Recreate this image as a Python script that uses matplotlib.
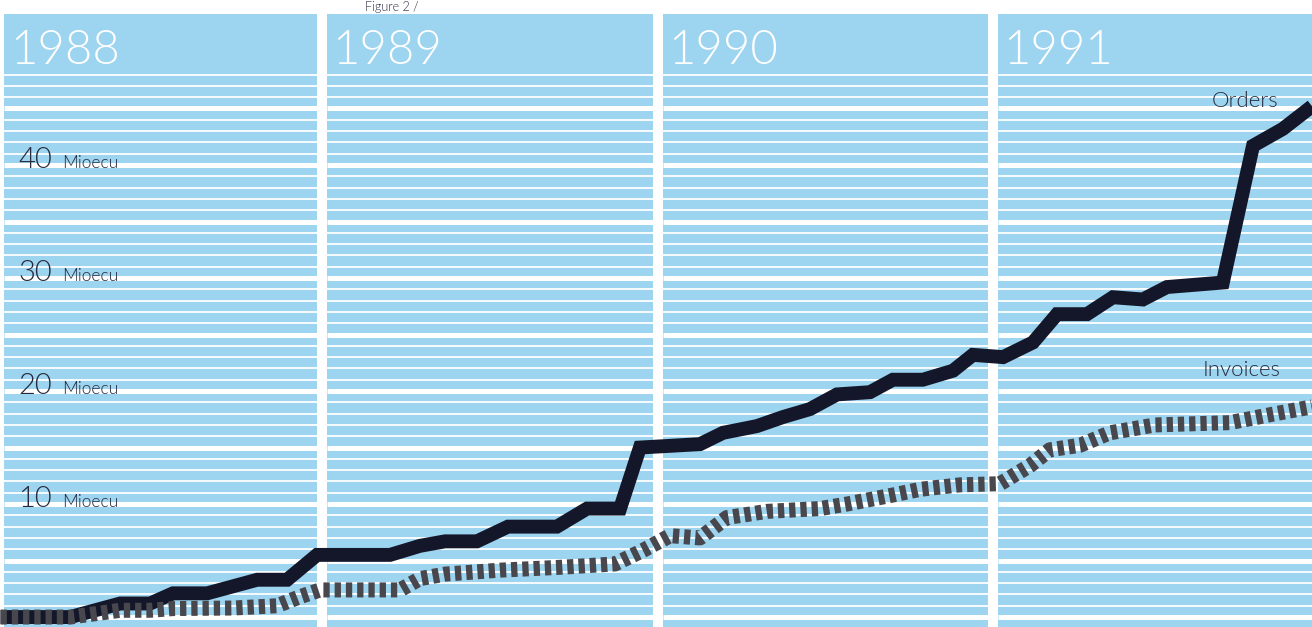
import matplotlib.pyplot as plt
from matplotlib.patches import Rectangle

years = ["1988", "1989", "1990", "1991"]

# x positions are months counted from January 1988, values in Mioecu (cumulative)
orders_month = [0.5, 2.99, 4.78, 5.85, 6.67, 7.89, 9.68, 10.75, 11.82, 14.43,
                15.5, 16.4, 17.54, 18.65, 20.4, 21.48, 22.66, 23.37, 25.52, 26.34,
                27.56, 28.49, 29.45, 30.42, 31.6, 32.42, 33.49, 34.57, 35.28, 36.36,
                37.43, 38.29, 39.36, 40.29, 41.36, 42.22, 44.22, 45.3, 46.37, 47.41]
orders_mioecu = [0, 0, 1.2, 1.2, 2.1, 2.1, 3.3, 3.3, 5.5, 5.5,
                 6.3, 6.7, 6.7, 8.0, 8.0, 9.6, 9.6, 15.0, 15.3, 16.3,
                 16.9, 17.7, 18.4, 19.7, 19.9, 21.0, 21.0, 21.8, 23.2, 23.0,
                 24.3, 26.8, 26.8, 28.3, 28.1, 29.2, 29.6, 41.7, 43.2, 45.2]

invoices_month = [0.5, 2.99, 4.06, 4.78, 5.85, 6.67, 8.82, 10.39, 11.21, 11.93,
                  14.79, 15.5, 16.4, 18.37, 20.51, 22.48, 23.48, 24.45, 25.52, 26.48,
                  27.91, 29.81, 30.78, 32.42, 33.39, 34.82, 36.25, 37.32, 38.03, 39.11,
                  40.18, 41.79, 44.47, 45.9, 47.41]
invoices_mioecu = [0, 0, 0.35, 0.6, 0.6, 0.75, 0.8, 1.0, 1.8, 2.4,
                   2.4, 3.4, 3.8, 4.15, 4.4, 4.7, 5.9, 7.2, 7.0, 8.8,
                   9.35, 9.6, 10.0, 10.8, 11.3, 11.7, 11.8, 13.4, 14.8, 15.2,
                   16.3, 17.0, 17.2, 17.9, 18.6]

value_ticks = [10, 20, 30, 40]

BLUE = "#9dd4ef"
INK = "#262a3c"
LIGHT = dict(fontfamily="Lato", fontweight=300)

fig = plt.figure(figsize=(13.12, 6.27), dpi=100)
ax = fig.add_axes([0, 0, 1, 1])
ax.set_xlim(0.48, 47.41)
ax.set_ylim(-0.88, 54.6)
ax.axis("off")

thin_levels = [v for v in range(0, 49) if v % 5]
thick_levels = [v for v in range(0, 49) if v % 5 == 0]

# one ruled panel per year
for i, year in enumerate(years):
    left = max(12 * i + 0.18, 0.63)
    right = 12 * i + 11.82
    ax.add_patch(Rectangle((left, -2), right - left, 55.4, color=BLUE, lw=0, zorder=0))
    ax.hlines(thin_levels, left, right, colors="white", lw=1.3, zorder=1)
    ax.hlines(thick_levels, left, right, colors="white", lw=3.6, zorder=1)
    ax.text(left + 0.2, 48.9, year, color="white", fontsize=34, va="baseline", zorder=4, **LIGHT)

ax.plot(orders_month, orders_mioecu, color="#14172a", lw=10,
        solid_joinstyle="miter", solid_capstyle="butt", zorder=3)
ax.plot(invoices_month, invoices_mioecu, color="#47474d", lw=10.8,
        linestyle=(0, (0.42, 0.33)), dash_capstyle="butt", zorder=3.5)

for v in value_ticks:
    ax.text(1.13, v - 0.3, str(v), color=INK, fontsize=21, va="baseline", zorder=4, **LIGHT)
    ax.text(2.7, v - 0.3, "Mioecu", color=INK, fontsize=12.5, va="baseline", zorder=4, **LIGHT)

ax.text(46.19, 45.7, "Orders", color=INK, fontsize=16, ha="right", va="center", zorder=4, **LIGHT)
ax.text(46.3, 21.9, "Invoices", color=INK, fontsize=16, ha="right", va="center", zorder=4, **LIGHT)

fig.text(365 / 1312, 1 - 11 / 627, "Figure 2 /", color=INK, fontsize=9, va="baseline", **LIGHT)

fig.savefig("out.png", dpi=100, facecolor="white")
